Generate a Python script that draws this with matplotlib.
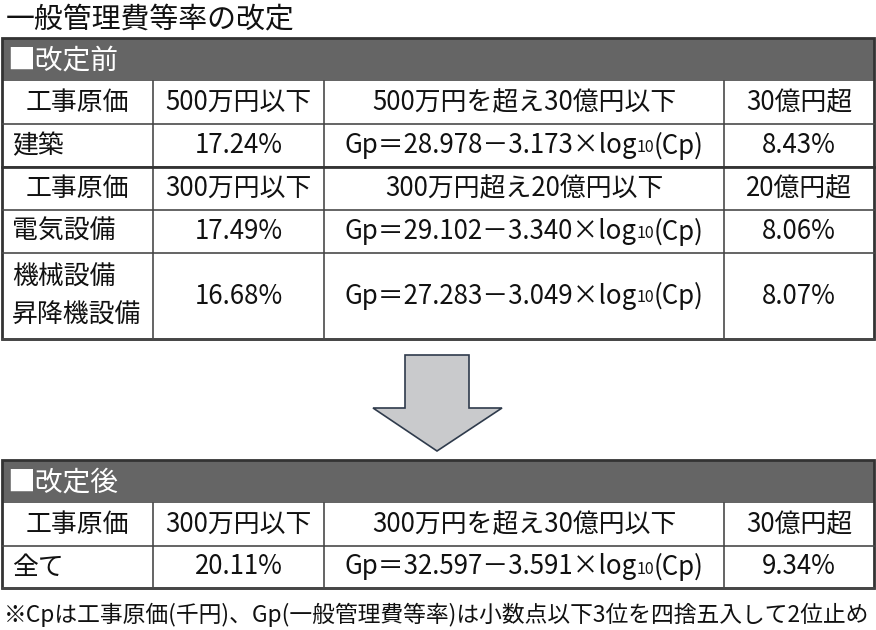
import matplotlib
matplotlib.use("Agg")
import matplotlib.pyplot as plt
from matplotlib.patches import Rectangle, Polygon

plt.rcParams['font.family'] = ['Noto Sans CJK JP', 'DejaVu Sans']

title = "一般管理費等率の改定"
footnote = "※Cpは工事原価(千円)、Gp(一般管理費等率)は小数点以下3位を四捨五入して2位止め"

before_title = "■改定前"
before_head1 = ["工事原価", "500万円以下", "500万円を超え30億円以下", "30億円超"]
before_row1 = ["建築", "17.24%", ("28.978", "3.173"), "8.43%"]
before_head2 = ["工事原価", "300万円以下", "300万円超え20億円以下", "20億円超"]
before_row2 = ["電気設備", "17.49%", ("29.102", "3.340"), "8.06%"]
before_row3 = ["機械設備\n昇降機設備", "16.68%", ("27.283", "3.049"), "8.07%"]

after_title = "■改定後"
after_head = ["工事原価", "300万円以下", "300万円を超え30億円以下", "30億円超"]
after_row = ["全て", "20.11%", ("32.597", "3.591"), "9.34%"]

# layout in pixels
W, H = 876, 630
col_x = [2, 153, 324, 724, 874]
FS = 18.6
LINE = "#4a4a4a"
BAR = "#656565"

fig = plt.figure(figsize=(W / 100, H / 100), dpi=100)
ax = fig.add_axes([0, 0, 1, 1])
ax.set_xlim(0, W)
ax.set_ylim(H, 0)
ax.axis("off")
renderer = fig.canvas.get_renderer()


def formula(xc, yc, a, b):
    parts = [("Gp＝" + a + "－" + b + "×log", FS, 0), ("10", FS * 0.62, 2), ("(Cp)", FS, 0)]
    texts = []
    widths = []
    for s, fs, dy in parts:
        t = ax.text(0, yc + dy, s, fontsize=fs, ha="left", va="center", color="#111")
        w = t.get_window_extent(renderer).width
        texts.append(t)
        widths.append(w)
    x = xc - sum(widths) / 2
    for t, w in zip(texts, widths):
        t.set_x(x)
        x += w


def row(y0, y1, cells, first_left=False):
    yc = (y0 + y1) / 2
    for i, c in enumerate(cells):
        xc = (col_x[i] + col_x[i + 1]) / 2
        if isinstance(c, tuple):
            formula(xc, yc, *c)
        elif i == 0 and first_left:
            ax.text(col_x[0] + 10, yc, c, fontsize=FS, ha="left", va="center",
                    color="#111", linespacing=1.5)
        else:
            ax.text(xc, yc, c, fontsize=FS, ha="center", va="center", color="#111")
    ax.plot([col_x[0], col_x[-1]], [y1, y1], color=LINE, lw=1.2)
    for x in col_x[1:-1]:
        ax.plot([x, x], [y0, y1], color=LINE, lw=1.2)


def table(top, bar_h, title_txt, rows, bottom):
    ax.add_patch(Rectangle((col_x[0], top), col_x[-1] - col_x[0], bar_h,
                           facecolor=BAR, edgecolor="none"))
    ax.text(col_x[0] + 5, top + bar_h / 2 + 1, title_txt, fontsize=20,
            color="white", ha="left", va="center")
    for y0, y1, cells, left in rows:
        row(y0, y1, cells, left)
    ax.add_patch(Rectangle((col_x[0], top), col_x[-1] - col_x[0], bottom - top,
                           facecolor="none", edgecolor="#333", lw=2))


ax.text(6, 19, title, fontsize=20.8, ha="left", va="center", color="#111")

table(38, 43, before_title, [
    (81, 124, before_head1, False),
    (124, 167, before_row1, True),
    (167, 210, before_head2, False),
    (210, 253, before_row2, True),
    (253, 339, before_row3, True),
], 339)
ax.plot([col_x[0], col_x[-1]], [167, 167], color="#333", lw=2)

# arrow
arrow = [(405, 355), (469, 355), (469, 408), (502, 408), (437, 451),
         (373, 408), (405, 408)]
ax.add_patch(Polygon(arrow, closed=True, facecolor="#c9cacc",
                     edgecolor="#2f3b4c", lw=1.2))

table(460, 43, after_title, [
    (503, 546, after_head, False),
    (546, 588, after_row, True),
], 588)

ax.text(4, 615, footnote, fontsize=16.4, ha="left", va="center", color="#111")

fig.savefig("out.png", dpi=100)
